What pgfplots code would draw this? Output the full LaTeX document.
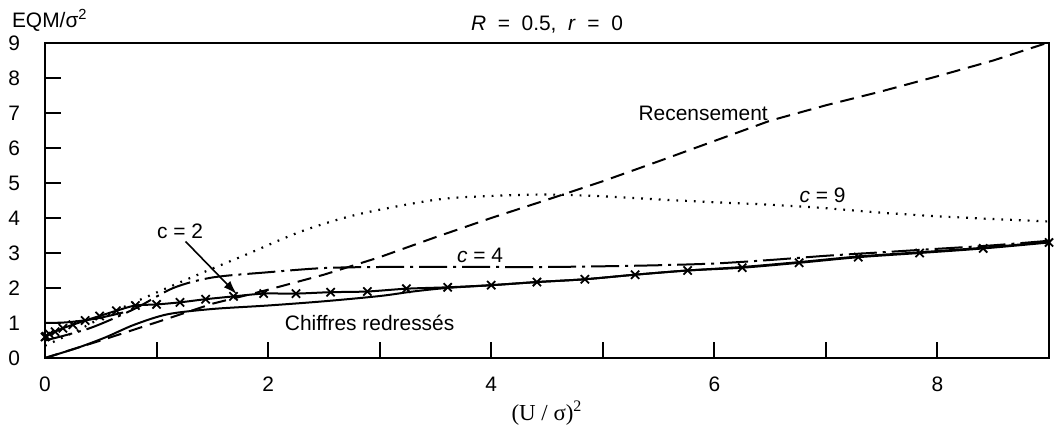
\documentclass[border=0pt]{standalone}
\usepackage{fontspec}
\setmainfont{Liberation Sans}
\newfontfamily\seriffont{Liberation Serif}
\usepackage{pgfplots}
\pgfplotsset{compat=1.18}
\usetikzlibrary{arrows.meta,calc}
\begin{document}
\begin{tikzpicture}[font=\fontsize{10.5}{12}\selectfont]
\begin{axis}[
  scale only axis, width=502bp, height=157.5bp,
  xmin=0, xmax=9, ymin=0, ymax=9,
  clip=false,
  axis line style={line width=1bp},
  xtick={0,...,9}, xticklabels={0,,2,,4,,6,,8,},
  ytick={0,...,9},
  xtick pos=bottom, ytick pos=left,
  tick align=inside,
  major tick length=8bp,
  tick style={line width=1bp, black},
  xticklabel shift=6bp, yticklabel shift=9bp,
  /pgf/number format/assume math mode=true,
]
% Recensement
\addplot[line width=1bp, dash pattern=on 7bp off 4bp] coordinates {
(0,0) (0.5,0.5) (1,1.02) (1.5,1.55) (2,1.95) (2.5,2.38) (3,2.88) (3.5,3.45) (4,4.0) (4.5,4.52) (5,5.05) (5.5,5.62) (6,6.2) (6.5,6.78) (7,7.22) (7.5,7.62) (8,8.05) (8.5,8.5) (9,9.02)};
% c = 9
\addplot[line width=1.1bp, dash pattern=on 0.9bp off 3.5bp, smooth] coordinates {
(0,0.35) (0.3,0.8) (0.6,1.3) (1.0,1.87) (1.4,2.42) (1.8,2.95) (2.3,3.62) (2.8,4.1) (3.5,4.52) (4,4.63) (4.5,4.67) (5,4.62) (5.5,4.53) (6,4.45) (6.5,4.38) (7,4.28) (7.5,4.15) (8,4.05) (8.5,3.97) (9,3.9)};
% c = 4
\addplot[line width=1bp, dash pattern=on 14bp off 3bp on 1.5bp off 3bp, smooth] coordinates {
(0,0.5) (0.4,0.85) (0.8,1.4) (1.15,2.0) (1.5,2.3) (2,2.45) (2.5,2.57) (3,2.6) (3.5,2.6) (4,2.6) (4.5,2.6) (5,2.62) (5.5,2.65) (6,2.7) (6.5,2.8) (7,2.92) (7.5,3.02) (8,3.12) (8.5,3.22) (9,3.35)};
% c = 2
\addplot[line width=1bp, mark=x, mark size=2.9bp, mark options={solid, line width=0.9bp}, smooth] coordinates {
(0,0.6) (0.01,0.62) (0.04,0.68) (0.09,0.75) (0.16,0.85) (0.25,0.95) (0.36,1.07) (0.49,1.2) (0.64,1.35) (0.81,1.5) (1.0,1.53) (1.21,1.59) (1.44,1.68) (1.69,1.76) (1.96,1.84) (2.25,1.84) (2.56,1.88) (2.89,1.9) (3.24,1.98) (3.61,2.02) (4.0,2.08) (4.41,2.17) (4.84,2.25) (5.29,2.38) (5.76,2.5) (6.25,2.58) (6.76,2.72) (7.29,2.88) (7.84,3.0) (8.41,3.13) (9.0,3.3)};
% short solid segment near origin
\addplot[line width=1bp, smooth] coordinates {(0,1.0) (0.2,1.02) (0.45,1.12) (0.7,1.3)};
% Chiffres redresses
\addplot[line width=1bp, smooth] coordinates {
(0,0) (0.3,0.3) (0.55,0.6) (0.8,0.95) (1.1,1.25) (1.5,1.4) (2,1.5) (2.5,1.62) (3,1.77) (3.3,1.9) (3.6,2.0) (4,2.08) (4.41,2.17) (4.84,2.25) (5.29,2.38) (5.76,2.5) (6.25,2.6) (6.76,2.74) (7.29,2.9) (7.84,3.02) (8.41,3.15) (9.0,3.32)};

\node at (axis cs:1.21,3.62) {c = 2};
\draw[-{Latex[length=7bp,width=4.5bp]}, line width=0.8bp] (axis cs:1.26,3.33) -- (axis cs:1.72,1.82);
\node at (axis cs:3.9,2.92) {\textit{c} = 4};
\node at (axis cs:6.97,4.65) {\textit{c} = 9};
\node at (axis cs:5.9,7.0) {Recensement};
\node at (axis cs:2.91,1.0) {Chiffres redressés};
\node at ($(rel axis cs:0.5,1)+(0,9bp)$) {\textit{R}\ \ =\ \ 0.5,\ \ \textit{r}\ \ =\ \ 0};
\node[anchor=west] at ($(rel axis cs:0,1)+(-20bp,11.5bp)$) {EQM/σ\textsuperscript{2}};
\node at ($(rel axis cs:0.5,0)+(0,-27.5bp)$) {\seriffont\fontsize{11.5}{13}\selectfont (U / σ)\textsuperscript{2}};
\end{axis}
\pgfresetboundingbox
\path ($(current axis.south west)+(-22.5bp,-36bp)$) rectangle ($(current axis.north east)+(6bp,21.5bp)$);
\end{tikzpicture}
\end{document}
